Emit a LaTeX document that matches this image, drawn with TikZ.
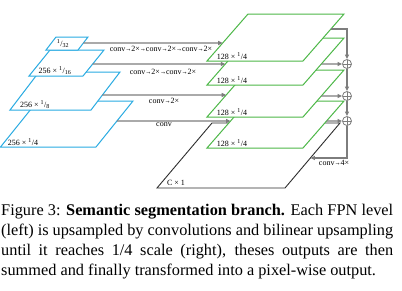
\documentclass[tikz,border=0pt]{standalone}
\usepackage{fontspec}
\setmainfont{Liberation Serif}
\usetikzlibrary{calc,arrows.meta}
\definecolor{fpnblue}{RGB}{41,171,226}
\definecolor{segreen}{RGB}{77,184,72}
\definecolor{conngray}{RGB}{125,125,125}
\definecolor{outblack}{RGB}{45,45,45}
\newcommand\sfr[2]{\textsuperscript{#1}/\textsubscript{#2}}
\newcommand\sfrn[2]{\textsuperscript{#1}/#2}
\newcommand\ar{\scalebox{0.75}[1]{→}}
\tikzset{
  fpnbox/.style={draw=fpnblue, fill=white, line width=1pt},
  segbox/.style={draw=segreen, fill=white, line width=1pt},
  outbox/.style={draw=outblack, fill=white, line width=0.9pt},
  conn/.style={draw=conngray, line width=1.2pt, -{Triangle[length=4.5pt,width=4pt]}},
  lbl/.style={font=\fontsize{8}{9}\selectfont, inner sep=0pt},
  sumnode/.style={circle, draw=conngray, line width=0.8pt, minimum size=9pt, inner sep=0pt,
    path picture={\draw[conngray, line width=0.7pt]
      (path picture bounding box.north) -- (path picture bounding box.south)
      (path picture bounding box.west) -- (path picture bounding box.east);}},
}
\begin{document}
\begin{tikzpicture}[x=1pt,y=-1pt]
\useasboundingbox (0,0) rectangle (402,290);
\fill[white] (0,0) rectangle (402,290);

% ---- FPN levels (blue), bottom first
\coordinate (b4bl) at (0.5,147); \coordinate (b4br) at (96,147);
\coordinate (b4tr) at (133,101); \coordinate (b4tl) at (37.5,101);
\coordinate (b8bl) at (10,110); \coordinate (b8br) at (91,110);
\coordinate (b8tr) at (120,72); \coordinate (b8tl) at (39,72);
\coordinate (b16bl) at (29,76); \coordinate (b16br) at (83,76);
\coordinate (b16tr) at (104,50); \coordinate (b16tl) at (50,50);
\coordinate (b32bl) at (46,50); \coordinate (b32br) at (78,50);
\coordinate (b32tr) at (88,37); \coordinate (b32tl) at (56,37);
\path[fpnbox] (b4bl) -- (b4br) -- (b4tr) -- (b4tl) -- cycle;
\path[fpnbox] (b8bl) -- (b8br) -- (b8tr) -- (b8tl) -- cycle;
\path[fpnbox] (b16bl) -- (b16br) -- (b16tr) -- (b16tl) -- cycle;
\path[fpnbox] (b32bl) -- (b32br) -- (b32tr) -- (b32tl) -- cycle;
\node[lbl] (l32) at (63,44) {\sfr{1}{32}};
\node[lbl] (l16) at (55,71) {256 × \sfr{1}{16}};
\node[lbl] (l8) at (35,105) {256 × \sfr{1}{8}};
\node[lbl] (l4) at (23,142) {256 × \sfrn{1}{4}};

% ---- output (black) and 1/4 maps (green), bottom first
\coordinate (obl) at (157,188); \coordinate (obr) at (285,188);
\coordinate (otr) at (340,123); \coordinate (otl) at (212,123);
\path[outbox] (obl) -- (obr) -- (otr) -- (otl) -- cycle;
\node[lbl] (lout) at (176,183) {C × 1};
\foreach \n/\yb in {4/148,3/117,2/85,1/61}{
  \coordinate (g\n bl) at (207,\yb);
  \coordinate (g\n br) at (303,\yb);
  \coordinate (g\n tr) at (344,\yb-47);
  \coordinate (g\n tl) at (248,\yb-47);
  \path[segbox] (g\n bl) -- (g\n br) -- (g\n tr) -- (g\n tl) -- cycle;
  \node[lbl] (lg\n) at (232,\yb-5) {128 × \sfrn{1}{4}};
}

% ---- connection points
\coordinate (r1s) at ($(b32br)!{7/13}!(b32tr)$);
\coordinate (r1e) at ($(g1bl)!{18/47}!(g1tl)$);
\coordinate (r2s) at ($(b16br)!{12/26}!(b16tr)$);
\coordinate (r2e) at ($(g2bl)!{21/47}!(g2tl)$);
\coordinate (r3s) at ($(b8br)!{15/38}!(b8tr)$);
\coordinate (r3e) at ($(g3bl)!{22/47}!(g3tl)$);
\coordinate (r4s) at ($(b4br)!{26/46}!(b4tr)$);
\coordinate (r4e) at ($(g4bl)!{27/47}!(g4tl)$);
\coordinate (q1) at ($(g1br)!{32/47}!(g1tr)$);
\coordinate (q2) at ($(g2br)!{21/47}!(g2tr)$);
\coordinate (q3) at ($(g3br)!{21/47}!(g3tr)$);
\coordinate (q4) at ($(g4br)!{27/47}!(g4tr)$);
\coordinate (oin) at ($(obr)!{30/65}!(otr)$);

\draw[conn] (r1s) -- (r1e);
\draw[conn] (r2s) -- (r2e);
\draw[conn] (r3s) -- (r3e);
\draw[conn] (r4s) -- (r4e);
\node[lbl] (c1) at (161,49) {conv\ar2×\ar conv\ar2×\ar conv\ar2×};
\node[lbl] (c2) at (163,72) {conv\ar2×\ar conv\ar2×};
\node[lbl] (c3) at (164,101) {conv\ar2×};
\node[lbl] (c4) at (164,125) {conv};

% ---- summation
\node[sumnode] (s1) at (347,64) {};
\node[sumnode] (s2) at (347,96) {};
\node[sumnode] (s3) at (347,121) {};
\draw[conn] (q1) -| (s1);
\draw[conn] (q2) -- (s1);
\draw[conn] (q3) -- (s2);
\draw[conn] (q4) -- (s3);
\draw[conn] (s1) -- (s2);
\draw[conn] (s2) -- (s3);
\draw[conn] (s3) |- (oin);
\node[lbl] (c5) at (334,162.5) {conv\ar4×};

% ---- caption
\node[anchor=north west, text width=392pt, align=justify, inner sep=0pt,
      font=\fontsize{16.3}{20}\selectfont] (cap) at (1,204)
 {Figure 3: \textbf{Semantic segmentation branch.} Each FPN level\linebreak
  (left) is upsampled by convolutions and bilinear upsampling\linebreak
  until it reaches 1/4 scale (right), theses outputs are then\linebreak
  summed and finally transformed into a pixel-wise output.};
\end{tikzpicture}
\end{document}
